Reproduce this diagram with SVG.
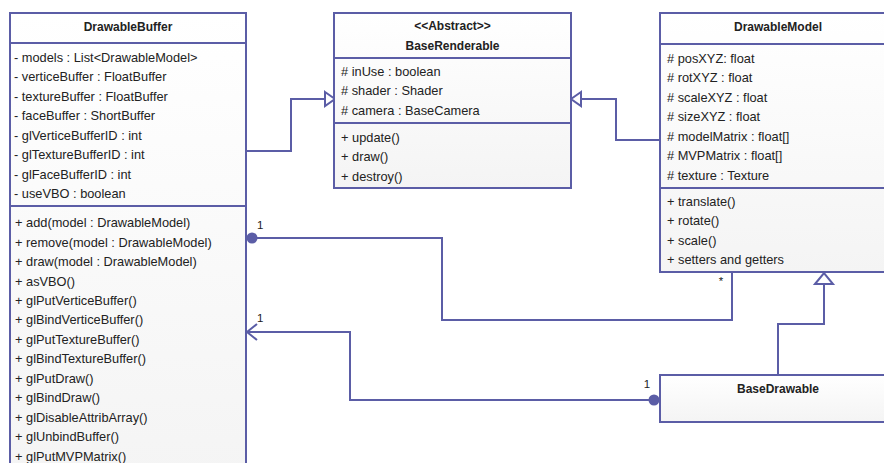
<svg xmlns="http://www.w3.org/2000/svg" width="884" height="463" viewBox="0 0 884 463">
<defs>
<linearGradient id="boxfill" x1="0" y1="0" x2="0" y2="1">
<stop offset="0" stop-color="#ffffff"/>
<stop offset="1" stop-color="#f4f4f4"/>
</linearGradient>
<style>
.box{fill:url(#boxfill);stroke:#5b5da6;stroke-width:2}
.sep{stroke:#5b5da6;stroke-width:2}
.t{font-family:"Liberation Sans",Arial,sans-serif;font-size:12.8px;fill:#222}
.h{font-family:"Liberation Sans",Arial,sans-serif;font-size:12px;font-weight:bold;fill:#222;text-anchor:middle}
.m{font-family:"Liberation Sans",Arial,sans-serif;font-size:11.5px;fill:#222}
.ln{fill:none;stroke:#5b5da6;stroke-width:2}
.tri{fill:#ffffff;stroke:#5b5da6;stroke-width:2}
.dot{fill:#5b5da6}
</style>
</defs>
<rect width="884" height="463" fill="#ffffff"/>

<g id="connectors">
<polyline class="ln" points="246,151 291,151 291,99 325,99"/>
<polygon class="tri" points="325,92 335,99 325,106"/>
<polyline class="ln" points="659,140 616,140 616,99 581,99"/>
<polygon class="tri" points="581,92 571,99 581,106"/>
<polyline class="ln" points="252,238 442,238 442,320 732,320 732,272"/>
<circle class="dot" cx="252" cy="238" r="5.5"/>
<polyline class="ln" points="257,324 247,332 257,340"/>
<polyline class="ln" points="246,332 350,332 350,400 653,400"/>
<circle class="dot" cx="654" cy="400" r="5.5"/>
<polyline class="ln" points="778,375 778,324 824,324 824,284"/>
<polygon class="tri" points="815,284 824,273 833,284"/>
<text class="m" x="257" y="229">1</text>
<text class="m" x="257" y="322">1</text>
<text class="m" x="647" y="388" text-anchor="middle">1</text>
<text class="m" x="721" y="285" text-anchor="middle">*</text>
</g>

<g id="DrawableBuffer">
<rect class="box" x="10" y="13" width="236" height="470"/>
<line class="sep" x1="10" y1="43" x2="246" y2="43"/>
<line class="sep" x1="10" y1="206" x2="246" y2="206"/>
<text class="h" x="128" y="30.5">DrawableBuffer</text>
<text class="t" x="14" y="61.8">- models : List&lt;DrawableModel&gt;</text>
<text class="t" x="14" y="81.3">- verticeBuffer : FloatBuffer</text>
<text class="t" x="14" y="100.8">- textureBuffer : FloatBuffer</text>
<text class="t" x="14" y="120.3">- faceBuffer : ShortBuffer</text>
<text class="t" x="14" y="139.8">- glVerticeBufferID : int</text>
<text class="t" x="14" y="159.3">- glTextureBufferID : int</text>
<text class="t" x="14" y="178.8">- glFaceBufferID : int</text>
<text class="t" x="14" y="198.3">- useVBO : boolean</text>
<text class="t" x="15" y="227.2">+ add(model : DrawableModel)</text>
<text class="t" x="15" y="246.6">+ remove(model : DrawableModel)</text>
<text class="t" x="15" y="266.1">+ draw(model : DrawableModel)</text>
<text class="t" x="15" y="285.5">+ asVBO()</text>
<text class="t" x="15" y="305">+ glPutVerticeBuffer()</text>
<text class="t" x="15" y="324.4">+ glBindVerticeBuffer()</text>
<text class="t" x="15" y="343.9">+ glPutTextureBuffer()</text>
<text class="t" x="15" y="363.3">+ glBindTextureBuffer()</text>
<text class="t" x="15" y="382.8">+ glPutDraw()</text>
<text class="t" x="15" y="402.2">+ glBindDraw()</text>
<text class="t" x="15" y="421.7">+ glDisableAttribArray()</text>
<text class="t" x="15" y="441.1">+ glUnbindBuffer()</text>
<text class="t" x="15" y="460.6">+ glPutMVPMatrix()</text>
</g>

<g id="BaseRenderable">
<rect class="box" x="334" y="13" width="237" height="175"/>
<line class="sep" x1="334" y1="58" x2="571" y2="58"/>
<line class="sep" x1="334" y1="123" x2="571" y2="123"/>
<text class="h" x="452.5" y="29.5">&lt;&lt;Abstract&gt;&gt;</text>
<text class="h" x="452.5" y="49.5">BaseRenderable</text>
<text class="t" x="341" y="75.5"># inUse : boolean</text>
<text class="t" x="341" y="95"># shader : Shader</text>
<text class="t" x="341" y="114.5"># camera : BaseCamera</text>
<text class="t" x="341" y="141.5">+ update()</text>
<text class="t" x="341" y="161">+ draw()</text>
<text class="t" x="341" y="180.5">+ destroy()</text>
</g>

<g id="DrawableModel">
<rect class="box" x="660" y="13" width="236" height="259"/>
<line class="sep" x1="660" y1="44" x2="896" y2="44"/>
<line class="sep" x1="660" y1="188" x2="896" y2="188"/>
<text class="h" x="778" y="30.5">DrawableModel</text>
<text class="t" x="667" y="62.5"># posXYZ: float</text>
<text class="t" x="667" y="82"># rotXYZ : float</text>
<text class="t" x="667" y="101.5"># scaleXYZ : float</text>
<text class="t" x="667" y="121"># sizeXYZ : float</text>
<text class="t" x="667" y="140.5"># modelMatrix : float[]</text>
<text class="t" x="667" y="160"># MVPMatrix : float[]</text>
<text class="t" x="667" y="179.5"># texture : Texture</text>
<text class="t" x="667" y="205.5">+ translate()</text>
<text class="t" x="667" y="225">+ rotate()</text>
<text class="t" x="667" y="244.5">+ scale()</text>
<text class="t" x="667" y="264">+ setters and getters</text>
</g>

<g id="BaseDrawable">
<rect class="box" x="660" y="375" width="236" height="47"/>
<text class="h" x="778" y="392.5">BaseDrawable</text>
</g>
</svg>
